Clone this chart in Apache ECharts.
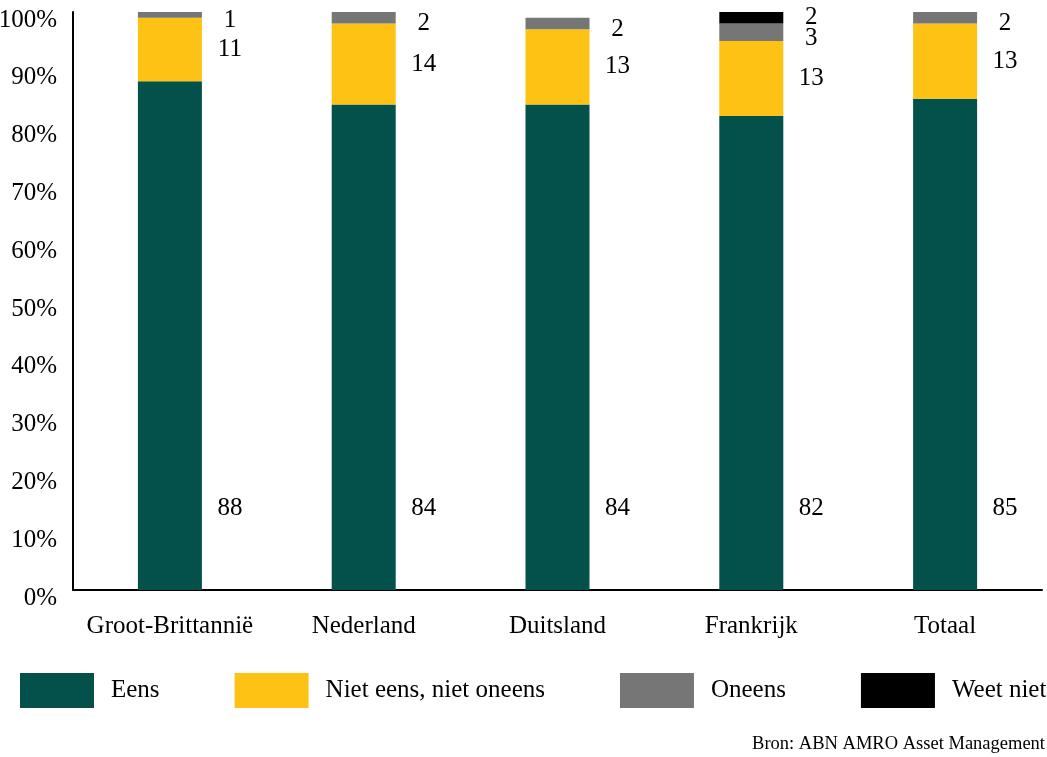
<!DOCTYPE html>
<html>
<head>
<meta charset="utf-8">
<script src="https://cdn.jsdelivr.net/npm/echarts@6/dist/echarts.min.js"></script>
<style>
html,body{margin:0;padding:0;background:#fff;}
#chart{width:1047px;height:757px;}
</style>
</head>
<body>
<div id="chart"></div>
<script>
const categories = ['Groot-Brittannië', 'Nederland', 'Duitsland', 'Frankrijk', 'Totaal'];
const seriesNames = ['Eens', 'Niet eens, niet oneens', 'Oneens', 'Weet niet'];
const eens = [88, 84, 84, 82, 85];
const neutraal = [11, 14, 13, 13, 13];
const oneens = [1, 2, 2, 3, 2];
const weetNiet = [0, 0, 0, 2, 0];
const yTicks = [0, 10, 20, 30, 40, 50, 60, 70, 80, 90, 100];
const sourceText = 'Bron: ABN AMRO Asset Management';

const colors = ['#03514A', '#FDC213', '#767676', '#000000'];
const FONT = '"Liberation Serif", "Times New Roman", serif';

const chart = echarts.init(document.getElementById('chart'), null, {renderer: 'canvas'});

const baseLabel = {
  show: true,
  color: '#000',
  fontFamily: FONT,
  fontSize: 25,
  align: 'center',
  verticalAlign: 'middle',
  formatter: p => (p.value ? String(p.value) : '')
};

function mkSeries(name, data, idx, label) {
  return {
    name: name,
    type: 'bar',
    stack: 'total',
    barWidth: 64,
    data: data,
    itemStyle: {color: colors[idx]},
    label: Object.assign({}, baseLabel, label),
    emphasis: {disabled: true}
  };
}

const option = {
  animation: false,
  textStyle: {fontFamily: FONT},
  grid: {left: 73, right: 5, top: 12, bottom: 167, containLabel: false, outerBoundsMode: 'none'},
  xAxis: {
    type: 'category',
    data: categories,
    axisLine: {show: true, lineStyle: {color: '#000', width: 2}},
    axisTick: {show: false},
    axisLabel: {color: '#000', fontFamily: FONT, fontSize: 25, margin: 24, interval: 0}
  },
  yAxis: {
    type: 'value',
    min: yTicks[0],
    max: yTicks[yTicks.length - 1],
    interval: yTicks[1] - yTicks[0],
    splitLine: {show: false},
    axisTick: {show: false},
    axisLine: {show: true, lineStyle: {color: '#000', width: 2}},
    axisLabel: {
      color: '#000', fontFamily: FONT, fontSize: 25, margin: 16,
      verticalAlign: 'top', lineHeight: 16,
      formatter: '{value}%'
    }
  },
  legend: {
    left: 20,
    top: 673,
    padding: 0,
    icon: 'rect',
    itemWidth: 74,
    itemHeight: 35,
    itemGap: 75,
    selectedMode: false,
    data: seriesNames,
    textStyle: {color: '#000', fontFamily: FONT, fontSize: 25, padding: [0, 0, 0, 12]}
  },
  graphic: [{
    type: 'text',
    right: 2,
    top: 735,
    style: {text: sourceText, fill: '#000', font: '18.5px ' + FONT}
  }],
  series: [
    mkSeries(seriesNames[0], eens, 0, {position: 'insideBottomRight', distance: 0, offset: [28, -82]}),
    mkSeries(seriesNames[1], neutraal, 1, {position: 'right', distance: 28}),
    mkSeries(seriesNames[2], oneens, 2, {position: 'right', distance: 28, offset: [0, 6]}),
    mkSeries(seriesNames[3], weetNiet, 3, {position: 'right', distance: 28})
  ]
};

chart.setOption(option);
</script>
</body>
</html>
